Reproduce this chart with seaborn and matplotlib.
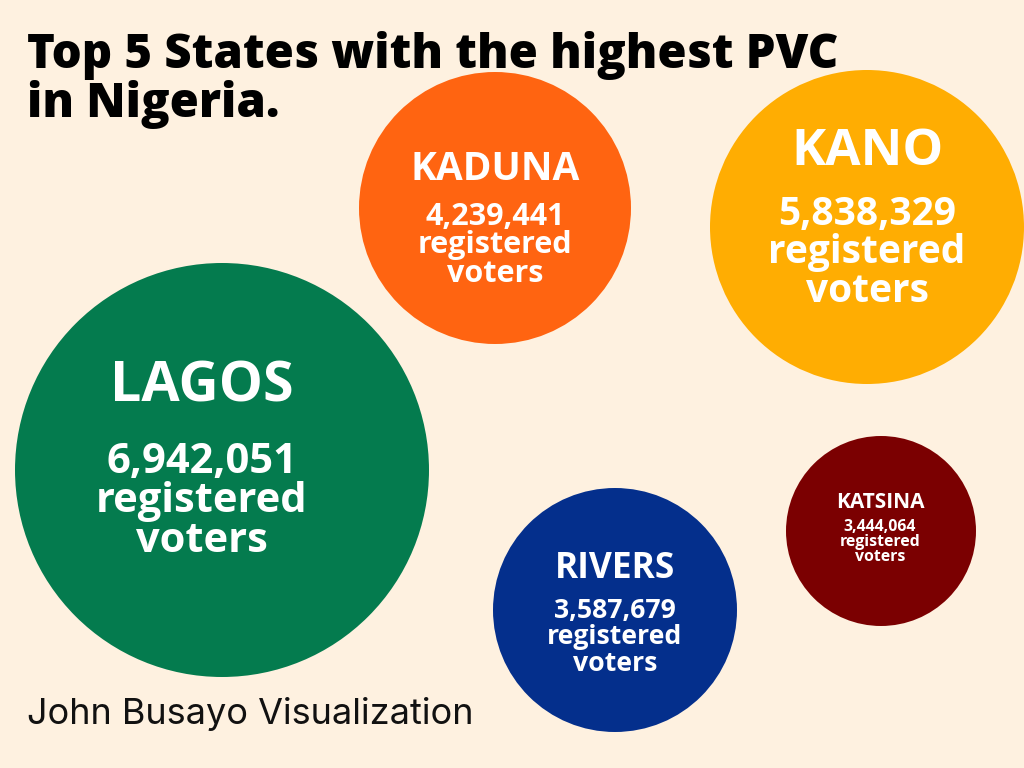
import matplotlib
matplotlib.use("Agg")
import matplotlib.pyplot as plt
import seaborn as sns
import pandas as pd

# Data: top 5 states by registered voters (PVC)
states = ["LAGOS", "KADUNA", "KANO", "RIVERS", "KATSINA"]
voters = [6942051, 4239441, 5838329, 3587679, 3444064]

# Layout of the bubbles (pixel-like coordinates, y downwards) and radius in px
pos_x = [222, 495, 867, 615, 881]
pos_y = [470, 208, 227, 610, 531]
radius_px = [207, 136, 157, 122, 95]
colors = ["#047B4E", "#FF6411", "#FFAD02", "#042F8C", "#7B0001"]

# text styling per bubble: name size, body size, x shift, y offsets of the 4 lines
name_size = [40, 28, 37, 25.5, 15]
body_size = [30, 22, 28, 19.2, 11.4]
text_dx = [-20, 0, 0, 0, -1]
line_dy = [
    [-83, -8, 31, 72],
    [-38, 9, 37, 66],
    [-75, -12, 25, 64],
    [-41, 1, 27, 54],
    [-29, -4, 11, 26],
]

bg = "#FEF1E0"

sns.set_theme(style="white")
plt.rcParams["font.family"] = ["Open Sans", "DejaVu Sans"]

df = pd.DataFrame({"state": states, "voters": voters, "x": pos_x, "y": pos_y})

fig = plt.figure(figsize=(10.24, 7.68), dpi=100)
fig.patch.set_facecolor(bg)
ax = fig.add_axes([0, 0, 1, 1])
ax.set_facecolor(bg)

# marker size is area in points^2; 1 px = 0.72 pt at 100 dpi
sizes = {s: (2 * r * 0.72) ** 2 for s, r in zip(states, radius_px)}
palette = dict(zip(states, colors))

sns.scatterplot(data=df, x="x", y="y", hue="state", size="state",
                sizes=sizes, palette=palette, linewidth=0, alpha=1,
                legend=False, ax=ax)

ax.set_xlim(0, 1024)
ax.set_ylim(768, 0)
ax.axis("off")

for i, s in enumerate(states):
    cx = pos_x[i] + text_dx[i]
    cy = pos_y[i]
    dy = line_dy[i]
    ax.text(cx, cy + dy[0], s, color="white", fontsize=name_size[i],
            fontweight="bold", ha="center", va="center")
    lines = [f"{voters[i]:,}", "registered", "voters"]
    for j, t in enumerate(lines):
        ax.text(cx, cy + dy[j + 1], t, color="white", fontsize=body_size[i],
                fontweight="bold", ha="center", va="center")

# Title and credit
ax.text(27, 31, "Top 5 States with the highest PVC\nin Nigeria.", fontsize=34,
        fontweight="heavy", color="black", ha="left", va="top", linespacing=1.0)
ax.text(27, 714, "John Busayo Visualization", fontsize=26, color="#111111",
        ha="left", va="center", family=["Inter", "DejaVu Sans"])

fig.savefig("out.png", dpi=100, facecolor=bg)
